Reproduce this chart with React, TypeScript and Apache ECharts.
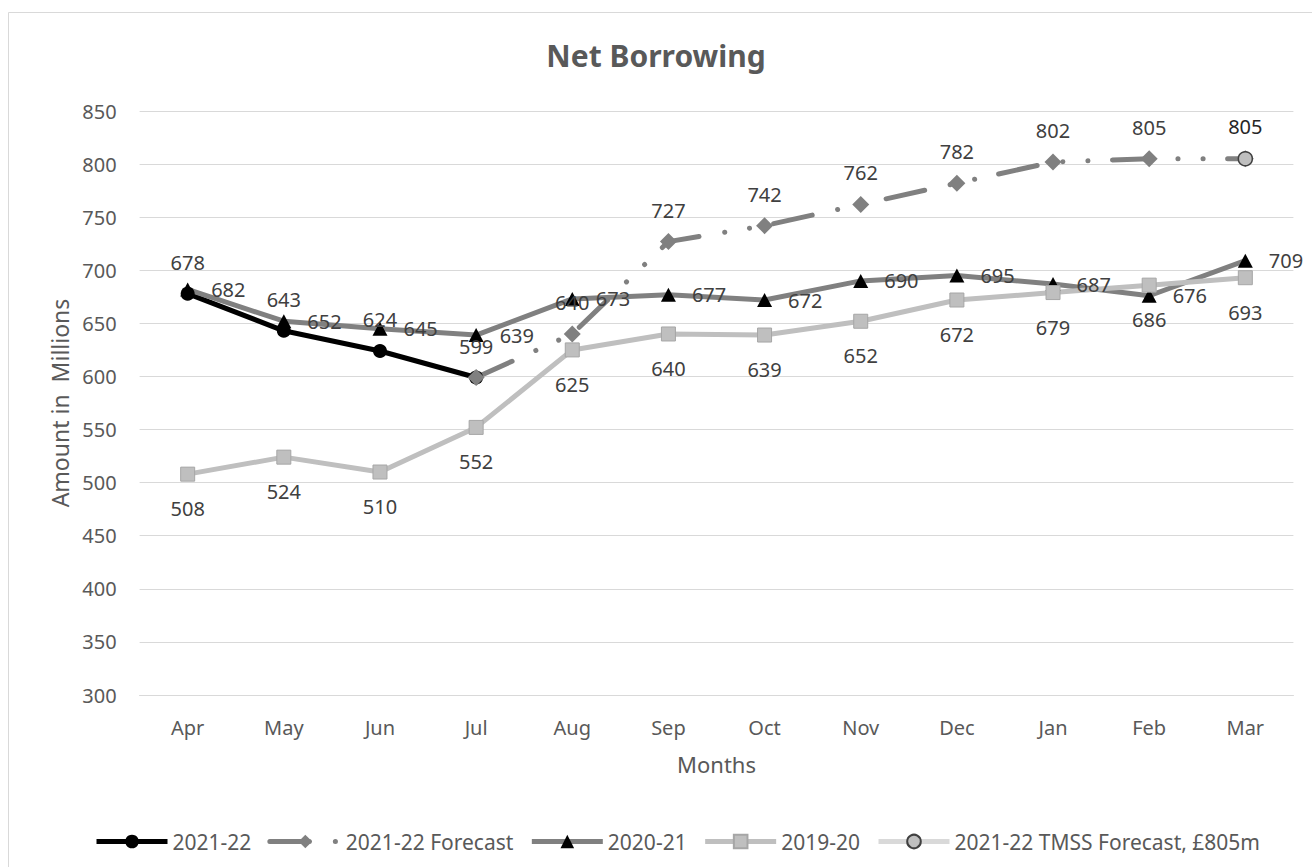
import React, { useEffect, useRef } from "react";
import * as echarts from "echarts";

const categories = ["Apr", "May", "Jun", "Jul", "Aug", "Sep", "Oct", "Nov", "Dec", "Jan", "Feb", "Mar"];
const actual2122 = [678, 643, 624, 599, null, null, null, null, null, null, null, null];
const forecast2122 = [null, null, null, 599, 640, 727, 742, 762, 782, 802, 805, 805];
const year2021 = [682, 652, 645, 639, 673, 677, 672, 690, 695, 687, 676, 709];
const year1920 = [508, 524, 510, 552, 625, 640, 639, 652, 672, 679, 686, 693];
const tmssForecast = [null, null, null, null, null, null, null, null, null, null, null, 805];
const forecastHiddenLabels = [3, 11];

const FONT = "'Noto Sans', 'Open Sans', sans-serif";

export default function App() {
  const ref = useRef<HTMLDivElement>(null);
  useEffect(() => {
    if (!ref.current) return;
    const chart = echarts.init(ref.current, null, { renderer: "svg" });
    const labelBase = { show: true, fontSize: 20, color: "#404040", fontFamily: FONT };
    chart.setOption({
      animation: false,
      backgroundColor: "#ffffff",
      textStyle: { fontFamily: FONT },
      title: {
        text: "Net Borrowing",
        left: "center",
        top: 40,
        padding: [0, 0, 0, 19],
        textStyle: { fontSize: 30, fontWeight: "bold", color: "#595959", fontFamily: FONT },
      },
      graphic: [
        {
          type: "rect",
          silent: true,
          z: -10,
          shape: { x: 8.5, y: 12.5, width: 1310, height: 870 },
          style: { fill: "none", stroke: "#D9D9D9", lineWidth: 1 },
        },
      ],
      legend: {
        left: 89,
        top: 826,
        itemWidth: 71,
        itemHeight: 17,
        itemGap: 16,
        textStyle: { fontSize: 21, color: "#595959", fontFamily: FONT },
        lineStyle: { width: "inherit" },
        data: ["2021-22", "2021-22 Forecast", "2020-21", "2019-20", "2021-22 TMSS Forecast, £805m"],
      },
      grid: { left: 139.6, right: 18.6, top: 111, bottom: 172, containLabel: false },
      xAxis: {
        type: "category",
        data: categories,
        boundaryGap: true,
        name: "Months",
        nameLocation: "middle",
        nameGap: 58,
        nameTextStyle: { fontSize: 22, color: "#595959", fontFamily: FONT },
        axisLine: { lineStyle: { color: "#D9D9D9", width: 1 } },
        axisTick: { show: false },
        axisLabel: { fontSize: 20, color: "#595959", margin: 22, fontFamily: FONT },
      },
      yAxis: {
        type: "value",
        min: 300,
        max: 850,
        interval: 50,
        name: "Amount in  Millions",
        nameLocation: "middle",
        nameGap: 67,
        nameTextStyle: { fontSize: 23, color: "#595959", fontFamily: FONT },
        axisLine: { show: false },
        axisTick: { show: false },
        axisLabel: { fontSize: 20, color: "#595959", margin: 23, fontFamily: FONT },
        splitLine: { lineStyle: { color: "#D9D9D9", width: 1 } },
      },
      series: [
        {
          name: "2021-22",
          type: "line",
          data: actual2122,
          symbol: "circle",
          symbolSize: 14,
          lineStyle: { color: "#000000", width: 5 },
          itemStyle: { color: "#000000" },
          label: { ...labelBase, position: "top", distance: 14 },
        },
        {
          name: "2021-22 Forecast",
          type: "line",
          data: forecast2122.map((v, i) => ({
            value: v,
            label: { show: forecastHiddenLabels.indexOf(i) < 0 },
          })),
          symbol: "diamond",
          symbolSize: 17,
          lineStyle: { color: "#808080", width: 5, type: [39.5, 26, 0.1, 25, 0.1, 24.5], cap: "round" },
          itemStyle: { color: "#808080" },
          label: { ...labelBase, position: "top", distance: 13 },
        },
        {
          name: "2020-21",
          type: "line",
          data: year2021,
          symbol: "triangle",
          symbolSize: [15, 14],
          lineStyle: { color: "#808080", width: 5 },
          itemStyle: { color: "#000000" },
          label: { ...labelBase, position: "right", distance: 16 },
        },
        {
          name: "2019-20",
          type: "line",
          data: year1920,
          symbol: "rect",
          symbolSize: 14,
          lineStyle: { color: "#BFBFBF", width: 5 },
          itemStyle: { color: "#BFBFBF", borderColor: "#A6A6A6", borderWidth: 1 },
          label: { ...labelBase, position: "bottom", distance: 17 },
        },
        {
          name: "2021-22 TMSS Forecast, £805m",
          type: "line",
          data: tmssForecast,
          symbol: "circle",
          symbolSize: 14,
          lineStyle: { color: "#D9D9D9", width: 5 },
          itemStyle: { color: "#BFBFBF", borderColor: "#404040", borderWidth: 1.5 },
          label: { ...labelBase, position: "top", distance: 15, color: "#262626" },
        },
      ],
    });
    return () => chart.dispose();
  }, []);
  return (
    <div
      ref={ref}
      style={{ position: "absolute", left: 0, top: 0, width: 1312, height: 867 }}
    />
  );
}
